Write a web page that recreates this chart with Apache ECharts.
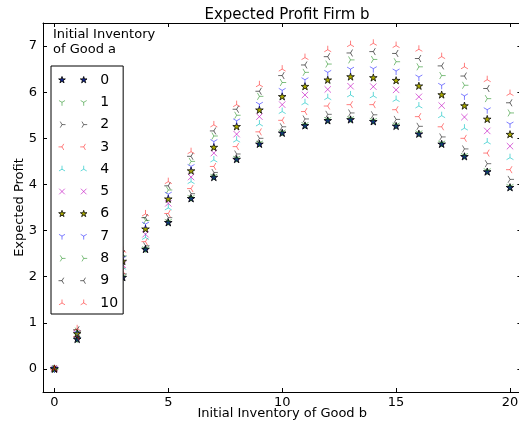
<!DOCTYPE html>
<html><head><meta charset="utf-8">
<script src="https://cdn.jsdelivr.net/npm/echarts@6/dist/echarts.min.js"></script>
<style>html,body{margin:0;padding:0;background:#fff}#c{width:519px;height:427px}</style>
</head><body><div id="c"></div>
<script>
// ---- data ----
const xValues = [0,1,2,3,4,5,6,7,8,9,10,11,12,13,14,15,16,17,18,19,20];
const seriesNames = ['0','1','2','3','4','5','6','7','8','9','10'];
const s0  = [0,0.64,1.32,1.98,2.59,3.17,3.69,4.15,4.54,4.87,5.11,5.27,5.38,5.40,5.36,5.26,5.09,4.87,4.60,4.27,3.93];
const s1  = [0,0.65,1.34,2.00,2.61,3.20,3.72,4.18,4.57,4.90,5.14,5.30,5.41,5.43,5.39,5.29,5.12,4.90,4.63,4.30,3.96];
const s2  = [0,0.68,1.38,2.06,2.67,3.28,3.80,4.26,4.66,5.00,5.25,5.42,5.52,5.55,5.51,5.41,5.26,5.03,4.77,4.45,4.11];
const s3  = [0,0.70,1.42,2.13,2.76,3.37,3.91,4.39,4.82,5.14,5.39,5.58,5.70,5.73,5.73,5.62,5.47,5.25,5.00,4.68,4.32];
const s4  = [0,0.72,1.46,2.20,2.85,3.49,4.06,4.53,4.96,5.31,5.58,5.77,5.88,5.94,5.92,5.84,5.70,5.49,5.22,4.92,4.58];
const s5  = [0,0.74,1.50,2.26,2.92,3.59,4.16,4.68,5.09,5.47,5.73,5.94,6.06,6.13,6.12,6.05,5.90,5.71,5.46,5.16,4.83];
const s6  = [0,0.76,1.54,2.33,3.03,3.68,4.29,4.80,5.25,5.61,5.90,6.12,6.26,6.33,6.31,6.25,6.13,5.94,5.70,5.41,5.08];
const s7  = [0,0.79,1.58,2.40,3.14,3.79,4.39,4.93,5.38,5.74,6.04,6.27,6.43,6.50,6.51,6.46,6.33,6.15,5.92,5.62,5.31];
const s8  = [0,0.82,1.62,2.45,3.22,3.88,4.50,5.05,5.50,5.91,6.21,6.43,6.61,6.70,6.71,6.66,6.55,6.36,6.15,5.86,5.55];
const s9  = [0,0.85,1.66,2.50,3.28,3.97,4.61,5.16,5.63,6.02,6.36,6.59,6.77,6.85,6.88,6.84,6.73,6.57,6.35,6.08,5.77];
const s10 = [0,0.87,1.70,2.57,3.36,4.06,4.71,5.29,5.73,6.16,6.50,6.75,6.92,7.03,7.06,7.01,6.93,6.77,6.55,6.27,5.97];
const xTicks = [0,5,10,15,20];
const yTicks = [0,1,2,3,4,5,6,7];
const allSeries = [s0,s1,s2,s3,s4,s5,s6,s7,s8,s9,s10];

// ---- marker shapes ----
const r3 = 0.866;
const shapes = {
  star: {pts:(function(){const p=[];for(let k=0;k<10;k++){const a=(-90+36*k)*Math.PI/180;const r=k%2?0.382:1;p.push([r*Math.cos(a),r*Math.sin(a)]);}return p;})()},
  triDown: {segs:[[0,1],[-r3,-0.5],[r3,-0.5]]},
  triUp: {segs:[[0,-1],[-r3,0.5],[r3,0.5]]},
  triLeft: {segs:[[-1,0],[0.5,-r3],[0.5,r3]]},
  triRight: {segs:[[1,0],[-0.5,-r3],[-0.5,r3]]},
  x: {segs:null}
};
function f(n){return (+n).toFixed(3);}
function shapePath(name, dx){
  const s = shapes[name]; let d='';
  if(name==='star'){
    d += 'M'+s.pts.map(p=>f(p[0]+dx)+','+f(p[1])).join('L')+'Z';
  } else if(name==='x'){
    const a=0.8;
    d += 'M'+f(dx-a)+','+f(-a)+'L'+f(dx+a)+','+f(a)+'M'+f(dx-a)+','+f(a)+'L'+f(dx+a)+','+f(-a);
  } else {
    s.segs.forEach(p=>{d+='M'+f(dx)+',0L'+f(p[0]+dx)+','+f(p[1]);});
  }
  d += 'M'+f(dx-1)+',-1L'+f(dx-1)+',-1M'+f(dx+1)+',1L'+f(dx+1)+',1';
  return d;
}
const styleDefs = [
  {shape:'star', fill:'rgb(20,40,150)', stroke:'rgba(0,0,0,0.85)', size:8},
  {shape:'triDown', stroke:'rgba(0,128,0,0.5)', size:8},
  {shape:'triRight', stroke:'rgba(0,0,0,0.55)', size:8},
  {shape:'triLeft', stroke:'rgba(255,0,0,0.5)', size:8},
  {shape:'triUp', stroke:'rgba(0,191,191,0.6)', size:8},
  {shape:'x', stroke:'rgba(191,0,191,0.6)', size:8},
  {shape:'star', fill:'rgb(170,170,0)', stroke:'rgba(0,0,0,0.75)', size:8},
  {shape:'triDown', stroke:'rgba(0,0,255,0.5)', size:8},
  {shape:'triRight', stroke:'rgba(0,128,0,0.5)', size:8},
  {shape:'triLeft', stroke:'rgba(0,0,0,0.6)', size:8},
  {shape:'triUp', stroke:'rgba(255,0,0,0.5)', size:8}
];

const series = allSeries.map((vals, i) => {
  const st = styleDefs[i];
  return {
    name: seriesNames[i],
    type: 'scatter',
    data: xValues.map((x, j) => [x, vals[j]]),
    symbol: 'path://' + shapePath(st.shape, 0),
    symbolKeepAspect: true,
    symbolSize: st.size,
    itemStyle: {color: st.fill || 'rgba(0,0,0,0)', borderColor: st.stroke, borderWidth: 1, opacity: 1},
    emphasis: {disabled: true},
    z: 2 + i * 0.01
  };
});

const legendData = seriesNames.map((n, i) => {
  const st = styleDefs[i];
  return {
    name: n,
    icon: 'path://' + shapePath(st.shape, -3.1) + shapePath(st.shape, 3.1),
    itemStyle: {color: st.fill || 'rgba(0,0,0,0)', borderColor: st.stroke, borderWidth: 1}
  };
});

const FONT = 'DejaVu Sans';
const chart = echarts.init(document.getElementById('c'), null, {renderer: 'canvas'});
chart.setOption({
  backgroundColor: '#fff',
  animation: false,
  textStyle: {fontFamily: FONT},
  title: [
    {text: 'Expected Profit Firm b', left: 282, top: 3, textAlign: 'center',
     textStyle: {fontFamily: FONT, fontSize: 15, fontWeight: 'normal', color: '#000'}},
    {text: 'Initial Inventory\nof Good a', left: 53, top: 27, padding: 0,
     textStyle: {fontFamily: FONT, fontSize: 13, fontWeight: 'normal', color: '#000', lineHeight: 15}}
  ],
  grid: {left: 43, right: -2.4, top: 23, bottom: 35, containLabel: false, outerBoundsMode: 'none'},
  legend: {
    data: legendData,
    orient: 'vertical',
    left: 51, top: 66,
    padding: [3, 5, 0, 7],
    itemGap: 0.3,
    itemWidth: 29, itemHeight: 7,
    symbolKeepAspect: true,
    backgroundColor: '#fff',
    borderColor: '#000', borderWidth: 1,
    selectedMode: false,
    textStyle: {fontFamily: FONT, fontSize: 14, color: '#000', lineHeight: 22, padding: [0,0,0,8]},
    z: 10
  },
  xAxis: [
    {type: 'value', min: -0.5, max: 20.5, position: 'bottom',
     name: 'Initial Inventory of Good b', nameLocation: 'middle', nameGap: 15, nameMoveOverlap: false,
     nameTextStyle: {fontFamily: FONT, fontSize: 13, color: '#000'},
     axisLine: {show: true, onZero: false, lineStyle: {color: '#000', width: 1}},
     axisTick: {show: true, inside: true, length: 4, customValues: xTicks, lineStyle: {color: '#000'}},
     axisLabel: {show: true, customValues: xTicks, margin: 4, fontFamily: FONT, fontSize: 13, color: '#000'},
     splitLine: {show: false}},
    {type: 'value', min: -0.5, max: 20.5, position: 'top',
     axisLine: {show: true, onZero: false, lineStyle: {color: '#000', width: 1}},
     axisTick: {show: true, inside: true, length: 4, customValues: xTicks, lineStyle: {color: '#000'}},
     axisLabel: {show: false}, splitLine: {show: false}}
  ],
  yAxis: [
    {type: 'value', min: -0.5, max: 7.5, position: 'left',
     name: 'Expected Profit', nameLocation: 'middle', nameGap: 17, nameMoveOverlap: false,
     nameTextStyle: {fontFamily: FONT, fontSize: 13, color: '#000'},
     axisLine: {show: true, onZero: false, lineStyle: {color: '#000', width: 1}},
     axisTick: {show: true, inside: true, length: 4, customValues: yTicks, lineStyle: {color: '#000'}},
     axisLabel: {show: true, customValues: yTicks, margin: 6, fontFamily: FONT, fontSize: 13, color: '#000'},
     splitLine: {show: false}},
    {type: 'value', min: -0.5, max: 7.5, position: 'right',
     axisLine: {show: true, onZero: false, lineStyle: {color: '#000', width: 1}},
     axisTick: {show: true, inside: true, length: 4, customValues: yTicks, lineStyle: {color: '#000'}},
     axisLabel: {show: false}, splitLine: {show: false}}
  ],
  series: series
});
</script></body></html>
